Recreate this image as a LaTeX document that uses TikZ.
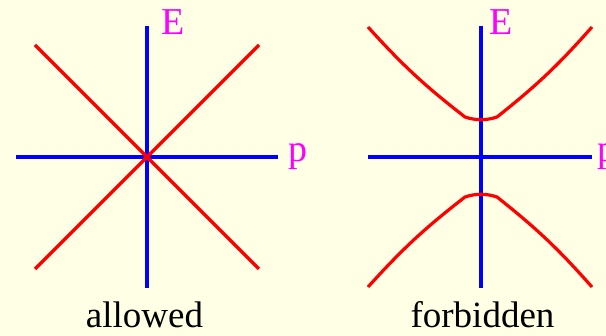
\documentclass[tikz,border=0pt]{standalone}
\usepackage{fontspec}
\setmainfont{Liberation Serif}
\definecolor{bgyellow}{RGB}{255,255,229}
\definecolor{axisblue}{RGB}{0,0,255}
\definecolor{curvered}{RGB}{255,0,0}
\definecolor{labelmag}{RGB}{255,0,255}
\tikzset{
  axisline/.style={draw=axisblue, line width=3.2pt},
  curveline/.style={draw=curvered, line width=3.2pt, line join=round},
  axislabel/.style={text=labelmag, inner sep=0pt, anchor=base west, font=\fontsize{38}{40}\selectfont},
  caption/.style={text=black, inner sep=0pt, anchor=base, font=\fontsize{37}{40}\selectfont}
}
\begin{document}
\begin{tikzpicture}[x=1pt, y=-1pt]
\fill[bgyellow] (0,0) rectangle (606,336);
\useasboundingbox (0,0) rectangle (606,336);
% left panel coordinates
\coordinate (LvT) at (147,26);
\coordinate (LvB) at (147,288);
\coordinate (LhL) at (16,157);
\coordinate (LhR) at (278,157);
\coordinate (LdTL) at (35,45);
\coordinate (LdBR) at (259,269);
\coordinate (LdTR) at (259,45);
\coordinate (LdBL) at (35,269);
% right panel coordinates
\coordinate (RvT) at (481,26);
\coordinate (RvB) at (481,288);
\coordinate (RhL) at (368,157);
\coordinate (RhR) at (592,157);
\coordinate (UA) at (368,27);
\coordinate (UB) at (465,117);
\coordinate (UC) at (497,117);
\coordinate (UD) at (592,27);
\coordinate (DA) at (368,287);
\coordinate (DB) at (465,197);
\coordinate (DC) at (497,197);
\coordinate (DD) at (592,287);
% left panel
\draw[axisline] (LvT) -- (LvB);
\draw[axisline] (LhL) -- (LhR);
\draw[curveline] (LdTL) -- (LdBR);
\draw[curveline] (LdTR) -- (LdBL);
% right panel
\draw[axisline] (RvT) -- (RvB);
\draw[axisline] (RhL) -- (RhR);
\draw[curveline] (UA) to[bend right=5] (UB) .. controls (475.7,120.6) and (486.3,120.6) .. (UC) to[bend right=5] (UD);
\draw[curveline] (DA) to[bend left=5] (DB) .. controls (475.7,193.4) and (486.3,193.4) .. (DC) to[bend left=5] (DD);
% labels
\node[axislabel] (E1) at (161,35) {E};
\node[axislabel] (p1) at (288,162) {p};
\node[axislabel] (E2) at (489.5,35) {E};
\node[axislabel] (p2) at (597.5,162) {p};
\node[caption] (cap1) at (144.5,328) {allowed};
\node[caption] (cap2) at (482.5,328) {forbidden};
\end{tikzpicture}
\end{document}
